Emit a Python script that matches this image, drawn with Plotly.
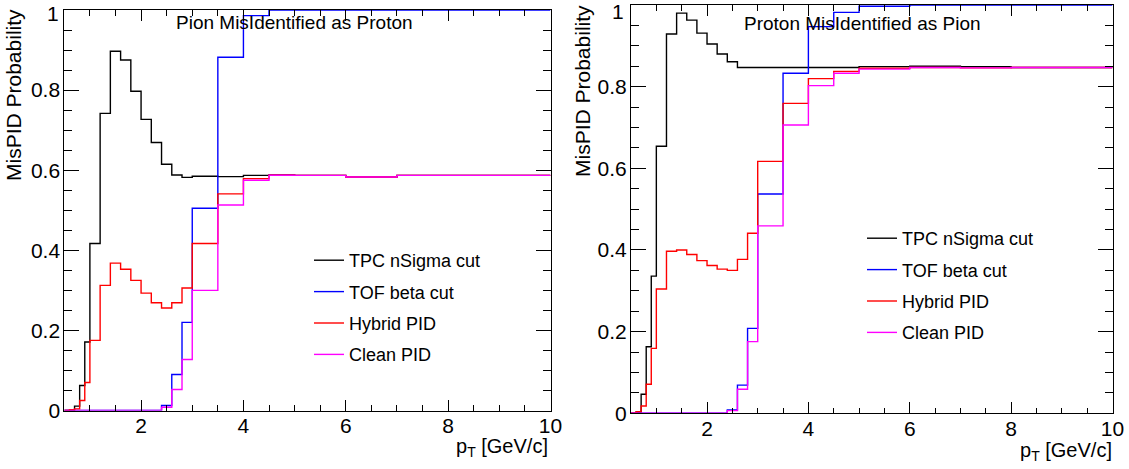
import plotly.graph_objects as go

W, H = 1129, 469

# variable pT binning shared by all histograms
pt_edges = [0.5, 0.6, 0.7, 0.8, 0.9, 1.0, 1.2, 1.4, 1.6, 1.8, 2.0, 2.2, 2.4,
            2.6, 2.8, 3.0, 3.5, 4.0, 4.5, 5.0, 6.0, 7.0, 8.0, 10.0]

series_names = ["TPC nSigma cut", "TOF beta cut", "Hybrid PID", "Clean PID"]
series_colors = ["#000000", "#0000ff", "#ff0000", "#ff00ff"]

# pion misidentified as proton
pion_tpc = [0, 0, 0.011, 0.0625, 0.171, 0.417, 0.742, 0.897, 0.875, 0.797, 0.727, 0.669,
            0.615, 0.588, 0.582, 0.585, 0.584, 0.587, 0.588, 0.587, 0.583, 0.587, 0.587]
pion_tof = [0, 0, 0, 0, 0, 0, 0, 0, 0, 0, 0, 0,
            0.0125, 0.09, 0.22, 0.505, 0.882, 0.986, 1.0, 1.0, 1.0, 1.0, 1.0]
pion_hybrid = [0, 0.002, 0.004, 0.025, 0.07, 0.175, 0.3125, 0.368, 0.3525, 0.325, 0.293, 0.269,
               0.256, 0.269, 0.306, 0.417, 0.541, 0.579, 0.5875, 0.587, 0.583, 0.587, 0.587]
pion_clean = [0, 0, 0, 0, 0, 0, 0, 0, 0, 0, 0, 0,
              0.008, 0.0525, 0.1275, 0.30, 0.513, 0.575, 0.5875, 0.587, 0.583, 0.587, 0.587]

# proton misidentified as pion
proton_tpc = [0, 0.003, 0.0465, 0.163, 0.336, 0.654, 0.929, 0.98, 0.963, 0.931, 0.9045, 0.88,
              0.861, 0.847, 0.847, 0.847, 0.847, 0.847, 0.847, 0.849, 0.85, 0.849, 0.847]
proton_tof = [0, 0, 0, 0, 0, 0, 0, 0, 0, 0, 0, 0,
              0.008, 0.069, 0.208, 0.537, 0.833, 0.947, 0.982, 0.997, 1.0, 1.0, 1.0]
proton_hybrid = [0, 0.004, 0.018, 0.071, 0.159, 0.3045, 0.397, 0.4, 0.389, 0.374, 0.362, 0.353,
                 0.35, 0.377, 0.441, 0.617, 0.759, 0.8196, 0.8375, 0.845, 0.847, 0.846, 0.847]
proton_clean = [0, 0, 0, 0, 0, 0, 0, 0, 0, 0, 0, 0,
                0.0065, 0.059, 0.1755, 0.459, 0.706, 0.8025, 0.833, 0.843, 0.847, 0.846, 0.847]

y_ticks = [0, 0.2, 0.4, 0.6, 0.8, 1]
# the top label is drawn separately, nudged below the frame like ROOT does
y_ticklabels = ["0", "0.2", "0.4", "0.6", "0.8", ""]
y_top_label = "1"
x_ticks = [2, 4, 6, 8, 10]

panel_titles = ["Pion MisIdentified as Proton", "Proton MisIdentified as Pion"]
y_title = "MisPID Probability"
x_title = "p<sub>T</sub> [GeV/c]"

FONT = "Liberation Sans, Arial, Helvetica, sans-serif"


def px(x):
    return x / W


def py(y):
    return 1 - y / H


fig = go.Figure()

panels = [
    ("x", "y", "legend", [pion_tpc, pion_tof, pion_hybrid, pion_clean]),
    ("x2", "y2", "legend2", [proton_tpc, proton_tof, proton_hybrid, proton_clean]),
]

for p, (xa, ya, leg, hists) in enumerate(panels):
    for name, color, vals in zip(series_names, series_colors, hists):
        fig.add_trace(go.Scatter(
            x=pt_edges, y=list(vals) + [vals[-1]],
            mode="lines", line=dict(color=color, width=1.4, shape="hv"),
            name=name, xaxis=xa, yaxis=ya, legend=leg,
            legendgroup=f"{p}-{name}",
        ))

axis_common = dict(
    showgrid=False, zeroline=False, showline=True, linecolor="black", linewidth=1,
    mirror="ticks", ticks="inside", tickcolor="black", ticklabeloverflow="allow",
    automargin=False,
    tickfont=dict(family=FONT, size=21, color="black"),
)
x_common = dict(axis_common, range=[0.5, 10], tickmode="array", tickvals=x_ticks, ticklen=11,
                ticklabelstandoff=-4,
                minor=dict(ticks="inside", tick0=0, dtick=0.5, ticklen=5.5, tickcolor="black"))
y_common = dict(axis_common, range=[0, 1], tickmode="array", tickvals=y_ticks,
                ticktext=y_ticklabels, ticklen=15, ticklabelstandoff=-1,
                minor=dict(ticks="inside", tick0=0, dtick=0.05, ticklen=7.5, tickcolor="black"))

fig.update_layout(
    width=W, height=H,
    margin=dict(l=0, r=0, t=0, b=0, autoexpand=False),
    paper_bgcolor="white", plot_bgcolor="white",
    font=dict(family=FONT, color="black"),
    xaxis=dict(x_common, domain=[px(64.3), px(550.5)], anchor="y"),
    yaxis=dict(y_common, domain=[py(410.5), py(10)], anchor="x"),
    xaxis2=dict(x_common, domain=[px(631), px(1112.5)], anchor="y2"),
    yaxis2=dict(y_common, domain=[py(413.3), py(5)], anchor="x2"),
    legend=dict(x=px(309), y=py(242), xanchor="left", yanchor="top",
                bgcolor="rgba(0,0,0,0)", font=dict(family=FONT, size=18),
                tracegroupgap=5),
    legend2=dict(x=px(862), y=py(220), xanchor="left", yanchor="top",
                 bgcolor="rgba(0,0,0,0)", font=dict(family=FONT, size=18),
                 tracegroupgap=5),
    showlegend=True,
)

annotations = [
    dict(text=panel_titles[0], x=px(294.4), y=py(10), font=dict(size=19)),
    dict(text=panel_titles[1], x=px(862.5), y=py(11), font=dict(size=19)),
    dict(text=y_title, x=px(13), y=py(7), textangle=-90, font=dict(size=21)),
    dict(text=y_title, x=px(582), y=py(3), textangle=-90, font=dict(size=21)),
]
for a in annotations:
    a.update(xref="paper", yref="paper", xanchor="center", yanchor="top", showarrow=False)
    fig.add_annotation(**a)

for xr, top in [(550, 433), (1114, 437)]:
    fig.add_annotation(text=x_title, x=px(xr), y=py(top), xref="paper", yref="paper",
                       xanchor="right", yanchor="top", showarrow=False, font=dict(size=20))

for xr, ya, shift in [(61, "y", -4), (626, "y2", -6)]:
    fig.add_annotation(text=y_top_label, x=px(xr), y=y_ticks[-1], xref="paper", yref=ya,
                       xanchor="right", yanchor="middle", yshift=shift, showarrow=False,
                       font=dict(size=21))

# the page body gets the browser's default 8px margin and scrollbars otherwise
fig.write_html(
    "out.html",
    config={"displayModeBar": False},
    post_script="document.body.style.margin='0'; document.body.style.overflow='hidden';",
)
